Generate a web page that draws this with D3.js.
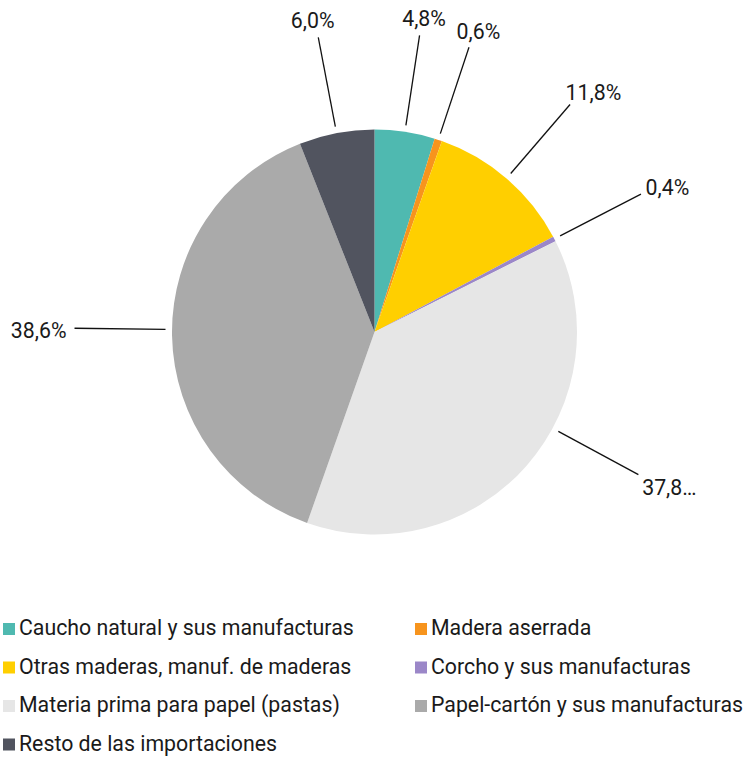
<!DOCTYPE html>
<html>
<head>
<meta charset="utf-8">
<script src="https://cdn.jsdelivr.net/npm/d3@7"></script>
<style>
	body { margin: 0; background: #fff; }
	text { font-family: Roboto, sans-serif; fill: #1a1a1a; }
</style>
</head>
<body>
<svg id="chart" width="747" height="757"></svg>
<script>
// categories, values (%) and label texts
const categories = [
	"Caucho natural y sus manufacturas",
	"Madera aserrada",
	"Otras maderas, manuf. de maderas",
	"Corcho y sus manufacturas",
	"Materia prima para papel (pastas)",
	"Papel-cartón y sus manufacturas",
	"Resto de las importaciones"
];
const values = [4.8, 0.6, 11.8, 0.4, 37.8, 38.6, 6.0];
const labelTexts = ["4,8%", "0,6%", "11,8%", "0,4%", "37,8…", "38,6%", "6,0%"];
const colors = ["#4fb9b0", "#f7941d", "#ffcf00", "#9b87c8", "#e6e6e6", "#aaaaaa", "#51545f"];

// layout
const cx = 374.5, cy = 332, radius = 202.5;
const lineFrom = 209, lineTo = 300;
// leader line angle tweak (degrees) where the label was nudged
const labelShift = [0, 0, 0, 0, -13, 1.8, 0];
const fontSize = 21.3;

const svg = d3.select("#chart");

const pie = d3.pie().sort(null).value(d => d)(values);
const arc = d3.arc().innerRadius(0).outerRadius(radius);

const g = svg.append("g").attr("transform", `translate(${cx},${cy})`);

g.selectAll("path.slice")
	.data(pie)
	.join("path")
	.attr("class", "slice")
	.attr("d", arc)
	.attr("fill", (d, i) => colors[i]);

// leader lines + labels
const labelAngle = (d, i) => (d.startAngle + d.endAngle) / 2 + labelShift[i] * Math.PI / 180;

pie.forEach((d, i) => {
	const a = labelAngle(d, i);
	const s = Math.sin(a), c = -Math.cos(a);
	g.append("line")
		.attr("x1", s * lineFrom).attr("y1", c * lineFrom)
		.attr("x2", s * lineTo).attr("y2", c * lineTo)
		.attr("stroke", "#111")
		.attr("stroke-width", 1.3);

	const t = g.append("text")
		.text(labelTexts[i])
		.attr("font-size", fontSize)
		.attr("text-anchor", "middle")
		.attr("dominant-baseline", "central");
	const w = t.node().getComputedTextLength();
	t.attr("x", s * lineTo + s * (w / 2 + 8))
		.attr("y", c * lineTo + 3 + 20 * c);
});

// legend
const legendX = [3, 415];
const legendY0 = 635, legendStep = 38.5;
const sq = 12;

const legend = svg.append("g");
categories.forEach((name, i) => {
	const col = i % 2, row = Math.floor(i / 2);
	const x = legendX[col], y = legendY0 + row * legendStep;
	legend.append("rect")
		.attr("x", x).attr("y", y - sq)
		.attr("width", sq).attr("height", sq)
		.attr("fill", colors[i]);
	legend.append("text")
		.attr("x", x + sq + 4)
		.attr("y", y)
		.attr("font-size", fontSize)
		.text(name);
});
</script>
</body>
</html>
